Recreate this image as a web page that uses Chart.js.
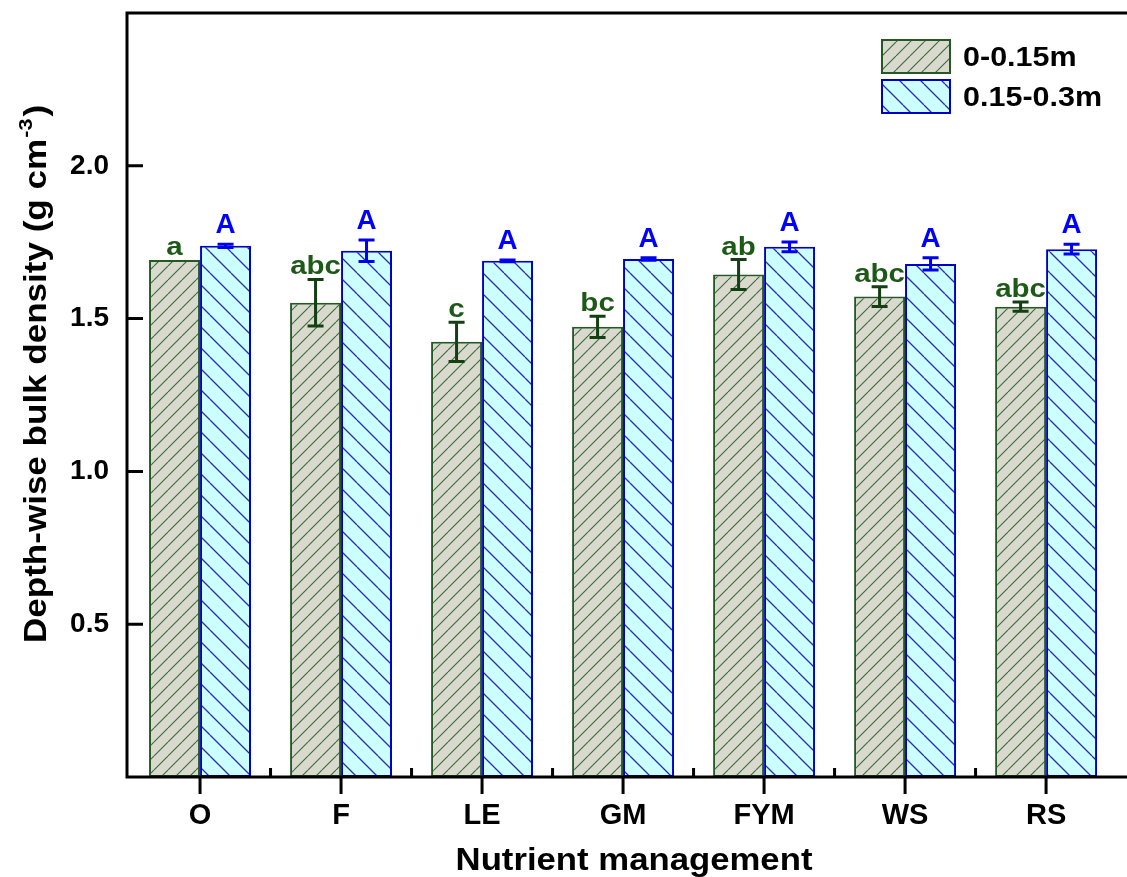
<!DOCTYPE html>
<html><head><meta charset="utf-8">
<script src="https://cdn.jsdelivr.net/npm/chart.js@4.4.1/dist/chart.umd.min.js"></script>
<style>
html,body{margin:0;padding:0;background:#fff;overflow:hidden;}
#wrap{position:relative;width:1160px;height:877px;}
</style></head><body>
<div id="wrap"><canvas id="c"></canvas></div>
<script>
const categories = ['O','F','LE','GM','FYM','WS','RS'];
const seriesNames = ['0-0.15m','0.15-0.3m'];
const topsoil = [1.692,1.552,1.424,1.473,1.644,1.572,1.539];
const topsoilErr = [0,0.076,0.064,0.035,0.049,0.032,0.015];
const subsoil = [1.738,1.722,1.689,1.695,1.735,1.679,1.727];
const subsoilErr = [0.005,0.035,0.003,0.004,0.016,0.020,0.016];
const topsoilLetters = ['a','abc','c','bc','ab','abc','abc'];
const subsoilLetters = ['A','A','A','A','A','A','A'];
const yTicks = [0.5,1.0,1.5,2.0];
const yTickLabels = ['0.5','1.0','1.5','2.0'];
const xTitle = 'Nutrient management';
const yTitle = 'Depth-wise bulk density (g cm';
const yTitleSup = '-3';
const yTitleEnd = ')';

const FONT = '"Liberation Sans", Arial, Helvetica, sans-serif';

function hatch(bg, line, s, dir, lw){
  const c = document.createElement('canvas'); c.width = s; c.height = s;
  const g = c.getContext('2d');
  g.fillStyle = bg; g.fillRect(0,0,s,s);
  g.strokeStyle = line; g.lineWidth = lw;
  g.beginPath();
  for (const k of [-1,0,1]) {
    if (dir > 0) { g.moveTo(k*s, s); g.lineTo(k*s + s, 0); }
    else { g.moveTo(k*s, 0); g.lineTo(k*s + s, s); }
  }
  g.stroke();
  return g.createPattern(c, 'repeat');
}

const ctx = document.getElementById('c').getContext('2d');
const greenPat = hatch('#d9d9ce', '#3a6c3a', 14, 1, 1.1);
const bluePat = hatch('#ccffff', '#2a2ab4', 21, -1, 1.3);
const greenBorder = '#255825';
const blueBorder = '#0000c8';
const greenText = '#1d5a18';
const blueText = '#0000ff';
const greenErr = '#133f13';
const blueErr = '#0000ee';

function stext(c, txt, x, y, size, color, align, sx, baseline){
  c.save();
  c.translate(x, y); c.scale(sx, 1);
  c.font = 'bold ' + size + 'px ' + FONT;
  c.fillStyle = color; c.textAlign = align; c.textBaseline = baseline || 'alphabetic';
  c.fillText(txt, 0, 0);
  c.restore();
}

const decor = {
  id: 'decor',
  afterDatasetsDraw(chart){
    const c = chart.ctx, xs = chart.scales.x, ys = chart.scales.y, a = chart.chartArea;
    const sets = [
      {vals: topsoil, errs: topsoilErr, letters: topsoilLetters, ec: greenErr, tc: greenText, size: 25, sx: 1.18, gap: 5},
      {vals: subsoil, errs: subsoilErr, letters: subsoilLetters, ec: blueErr, tc: blueText, size: 27, sx: 1.03, gap: 11}
    ];
    sets.forEach((s, di) => {
      const meta = chart.getDatasetMeta(di);
      meta.data.forEach((bar, i) => {
        const v = s.vals[i], e = s.errs[i];
        const x = bar.x;
        if (e > 0) {
          const yt = ys.getPixelForValue(v + e), yb = ys.getPixelForValue(v - e);
          c.save(); c.strokeStyle = s.ec; c.lineWidth = 3; c.lineCap = 'butt';
          c.beginPath();
          c.moveTo(x, yt); c.lineTo(x, yb);
          c.moveTo(x - 8, yt); c.lineTo(x + 8, yt);
          c.moveTo(x - 8, yb); c.lineTo(x + 8, yb);
          c.stroke(); c.restore();
        }
        const ytop = ys.getPixelForValue(v + e);
        stext(c, s.letters[i], x, ytop - s.gap, s.size, s.tc, 'center', s.sx);
      });
    });
    // frame
    c.save();
    c.strokeStyle = '#000'; c.lineWidth = 3;
    c.strokeRect(a.left, a.top, a.right - a.left, a.bottom - a.top);
    c.lineCap = 'butt';
    c.beginPath();
    yTicks.forEach(v => { const y = ys.getPixelForValue(v); c.moveTo(a.left, y); c.lineTo(a.left + 16, y); });
    categories.forEach((cat, i) => {
      const x = xs.getPixelForValue(i + 1);
      c.moveTo(x, a.bottom); c.lineTo(x, a.bottom + 17);
      if (i < categories.length - 1) {
        const xm = xs.getPixelForValue(i + 1.5);
        c.moveTo(xm, a.bottom); c.lineTo(xm, a.bottom - 9);
      }
    });
    c.stroke();
    c.restore();
  },
  afterDraw(chart){
    const c = chart.ctx;
    // x title
    stext(c, xTitle, 634, 870, 31, '#000', 'center', 1.12);
    // y title rotated
    c.save();
    c.translate(46, 643); c.rotate(-Math.PI/2); c.scale(1.13, 1);
    c.fillStyle = '#000'; c.textBaseline = 'alphabetic'; c.textAlign = 'left';
    c.font = 'bold 31px ' + FONT;
    c.fillText(yTitle, 0, 0);
    const w1 = c.measureText(yTitle).width;
    c.font = 'bold 19px ' + FONT;
    c.fillText(yTitleSup, w1 + 1, -14);
    const w2 = c.measureText(yTitleSup).width;
    c.font = 'bold 31px ' + FONT;
    c.fillText(yTitleEnd, w1 + w2 + 3, 0);
    c.restore();
    // legend
    const pats = [greenPat, bluePat], borders = [greenBorder, blueBorder];
    [39, 79].forEach((y, i) => {
      c.save();
      c.fillStyle = pats[i]; c.fillRect(881, y, 70, 35);
      c.strokeStyle = borders[i]; c.lineWidth = 2; c.strokeRect(882, y + 1, 68, 33);
      c.restore();
      stext(c, seriesNames[i], 963, y + 17.5 + 9.5, 27, '#000', 'left', 1.13);
    });
  }
};

new Chart(ctx, {
  type: 'bar',
  data: {
    datasets: [
      {label: seriesNames[0], data: topsoil.map((v,i)=>({x:i+1, y:v})), backgroundColor: greenPat, borderColor: greenBorder, borderWidth: 2, borderSkipped: false},
      {label: seriesNames[1], data: subsoil.map((v,i)=>({x:i+1, y:v})), backgroundColor: bluePat, borderColor: blueBorder, borderWidth: 2, borderSkipped: false}
    ]
  },
  options: {
    responsive: true, maintainAspectRatio: false, animation: false,
    layout: {padding: {left: 0, top: 13, right: 10, bottom: 0}},
    plugins: {legend: {display: false}, tooltip: {enabled: false}},
    datasets: {bar: {categoryPercentage: 0.723, barPercentage: 1}},
    scales: {
      x: {
        type: 'linear', min: 0.482, max: 7.737, offset: false,
        grid: {display: false, drawTicks: false}, border: {display: false},
        ticks: {autoSkip: false, maxRotation: 0, minRotation: 0, padding: 22, color: '#000',
          font: {family: FONT, size: 29, weight: 'bold'},
          callback: (v) => categories[v - 1]},
        afterBuildTicks: (s) => { s.ticks = categories.map((c, i) => ({value: i + 1})); },
        afterFit: (s) => { s.height = 100; s.paddingLeft = 0; s.paddingRight = 0; }
      },
      y: {
        min: 0, max: 2.5,
        grid: {display: false, drawTicks: false}, border: {display: false},
        ticks: {padding: 18, color: '#000', font: {family: FONT, size: 28, weight: 'bold'},
          callback: (v) => { const i = yTicks.indexOf(v); return i >= 0 ? yTickLabels[i] : ''; }},
        afterBuildTicks: (s) => { s.ticks = yTicks.map(v => ({value: v})); },
        afterFit: (s) => { s.width = 127; s.paddingTop = 0; s.paddingBottom = 0; }
      }
    }
  },
  plugins: [decor]
});
</script>
</body></html>
